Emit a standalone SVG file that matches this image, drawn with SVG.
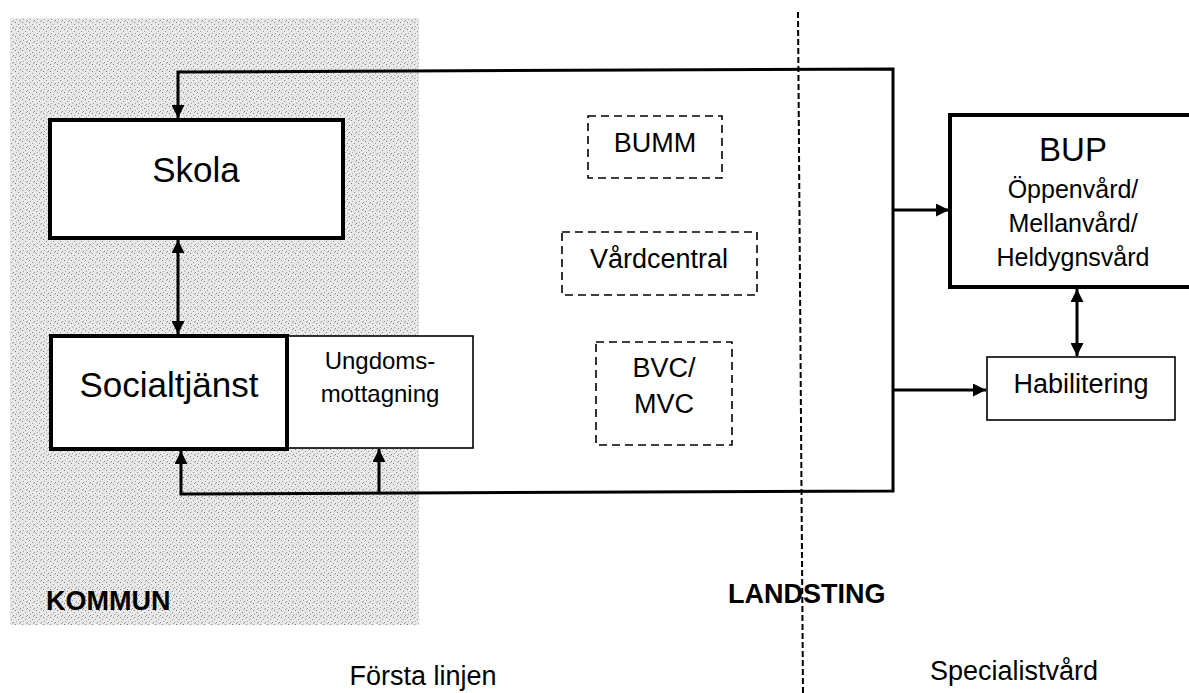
<svg xmlns="http://www.w3.org/2000/svg" width="1189" height="693" viewBox="0 0 1189 693">
<defs>
<pattern id="stipple" width="7" height="7" patternUnits="userSpaceOnUse">
<rect width="7" height="7" fill="#e8e8e8"/>
<rect x="1" y="1" width="1" height="1" fill="#7a7a7a"/>
<rect x="4" y="3" width="1" height="1" fill="#909090"/>
<rect x="2" y="5" width="1" height="1" fill="#a0a0a0"/>
<rect x="6" y="6" width="1" height="1" fill="#888"/>
<rect x="5" y="0" width="1" height="1" fill="#aaa"/>
</pattern>
<marker id="ah" viewBox="0 0 13 13" refX="13" refY="6.5" markerWidth="13" markerHeight="13" markerUnits="userSpaceOnUse" orient="auto-start-reverse">
<path d="M0,0 L13,6.5 L0,13 Z" fill="#000"/>
</marker>
</defs>
<style>
.thick{fill:#fff;stroke:#000;stroke-width:4}
.thin{fill:#fff;stroke:#000;stroke-width:1.6}
.dash{fill:#fff;stroke:#000;stroke-width:1.6;stroke-dasharray:8 5}
.conn{fill:none;stroke:#000;stroke-width:3}
text{font-family:"Liberation Sans",Arial,sans-serif;fill:#000;text-anchor:middle}
.bold{font-weight:bold;text-anchor:start}
</style>
<rect id="kommun-area" x="10" y="18" width="409" height="607" fill="url(#stipple)"/>
<line id="divider" x1="798" y1="12" x2="803" y2="693" stroke="#000" stroke-width="2" stroke-dasharray="6 3"/>
<g id="connectors">
<path class="conn" d="M893,330 L893,69 L178,72 L178,118" marker-end="url(#ah)"/>
<path class="conn" d="M893,330 L893,491 L181,494 L181,451" marker-end="url(#ah)"/>
<path class="conn" d="M379,493 L379,449" marker-end="url(#ah)"/>
<path class="conn" d="M893,210 L949,210" marker-end="url(#ah)"/>
<path class="conn" d="M894,390 L986,390" stroke-width="2" marker-end="url(#ah)"/>
<path class="conn" d="M178,240 L178,334" marker-start="url(#ah)" marker-end="url(#ah)"/>
<path class="conn" d="M1077,289 L1077,356" marker-start="url(#ah)" marker-end="url(#ah)"/>
</g>
<g id="skola"><rect class="thick" x="50" y="120" width="293" height="118"/><text x="196" y="182" font-size="35">Skola</text></g>
<g id="ungdomsmottagning"><rect class="thin" x="287" y="336" width="186" height="112"/><text x="380" y="369" font-size="24">Ungdoms-</text><text x="380" y="402" font-size="24">mottagning</text></g>
<g id="socialtjanst"><rect class="thick" x="51" y="336" width="236" height="113"/><text x="169" y="397" font-size="35">Socialtjänst</text></g>
<g id="bumm"><rect class="dash" x="588" y="116" width="134" height="62"/><text x="655" y="152" font-size="27">BUMM</text></g>
<g id="vardcentral"><rect class="dash" x="562" y="232" width="195" height="63"/><text x="659" y="268" font-size="27">Vårdcentral</text></g>
<g id="bvc-mvc"><rect class="dash" x="596" y="342" width="136" height="103"/><text x="664" y="377" font-size="27">BVC/</text><text x="664" y="413" font-size="27">MVC</text></g>
<g id="bup"><rect class="thick" x="950" y="115" width="250" height="172"/><text x="1073" y="161" font-size="33">BUP</text><text x="1073" y="198" font-size="25">Öppenvård/</text><text x="1073" y="232" font-size="25">Mellanvård/</text><text x="1073" y="266" font-size="25">Heldygnsvård</text></g>
<g id="habilitering"><rect class="thin" x="987" y="357" width="188" height="63"/><text x="1081" y="393" font-size="27">Habilitering</text></g>
<g id="labels">
<text class="bold" x="46" y="610" font-size="27">KOMMUN</text>
<text class="bold" x="728" y="603" font-size="27">LANDSTING</text>
<text x="423" y="685" font-size="27">Första linjen</text>
<text x="1014" y="680" font-size="27">Specialistvård</text>
</g>
</svg>
